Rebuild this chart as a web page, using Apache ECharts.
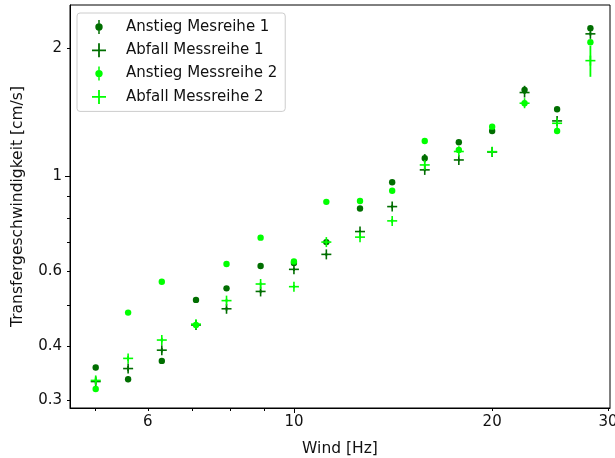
<!DOCTYPE html>
<html>
<head>
<meta charset="utf-8">
<script src="https://cdn.jsdelivr.net/npm/echarts@6/dist/echarts.min.js"></script>
<style>
  html, body { margin: 0; padding: 0; background: #fff; }
  #chart { width: 615px; height: 458px; }
</style>
</head>
<body>
<div id="chart"></div>
<script>
// Wind frequency of each measurement point [Hz]
const windHz = [5.0, 5.6, 6.3, 7.1, 7.9, 8.9, 10, 11.2, 12.6, 14.1, 15.8, 17.8, 20, 22.4, 25.1, 28.2];

// Transfer velocity [cm/s] and its uncertainty, per run
const anstieg1    = [0.357, 0.335, 0.370, 0.514, 0.547, 0.617, 0.627, 0.702, 0.841, 0.969, 1.103, 1.202, 1.278, 1.595, 1.437, 2.224];
const anstieg1Err = [0.005, 0.005, 0.005, 0.005, 0.005, 0.005, 0.005, 0.005, 0.005, 0.008, 0.025, 0.008, 0.008, 0.035, 0.010, 0.010];
const abfall1     = [0.331, 0.355, 0.392, 0.449, 0.490, 0.538, 0.606, 0.657, 0.743, 0.850, 1.036, 1.093, 1.141, 1.572, 1.349, 2.157];
const abfall1Err  = [0.005, 0.005, 0.005, 0.005, 0.005, 0.005, 0.005, 0.005, 0.005, 0.008, 0.008, 0.008, 0.008, 0.010, 0.010, 0.020];
const anstieg2    = [0.318, 0.480, 0.567, 0.449, 0.624, 0.719, 0.632, 0.872, 0.876, 0.926, 1.211, 1.154, 1.308, 1.484, 1.278, 2.062];
const anstieg2Err = [0.005, 0.005, 0.005, 0.005, 0.005, 0.005, 0.005, 0.005, 0.005, 0.008, 0.008, 0.020, 0.008, 0.025, 0.010, 0.010];
const abfall2     = [0.333, 0.375, 0.414, 0.451, 0.512, 0.560, 0.552, 0.702, 0.721, 0.787, 1.064, 1.144, 1.143, 1.484, 1.332, 1.867];
const abfall2Err  = [0.005, 0.005, 0.005, 0.005, 0.005, 0.005, 0.005, 0.005, 0.005, 0.008, 0.008, 0.008, 0.008, 0.010, 0.010, 0.156];

// Tick positions
const xLabelTicks = [6, 10, 20, 30];
const xMajorTicks = [10];
const xMinorTicks = [5, 6, 7, 8, 9, 20, 30];
const yLabelTicks = [0.3, 0.4, 0.6, 1, 2];
const yMajorTicks = [1];
const yMinorTicks = [0.3, 0.4, 0.5, 0.6, 0.7, 0.8, 0.9, 2];

const seriesNames = ['Anstieg Mesreihe 1', 'Abfall Messreihe 1', 'Anstieg Messreihe 2', 'Abfall Messreihe 2'];

const DARK = '#006e00';
const LIME = '#00ff00';
const FONT = 'DejaVu Sans';

const ICON_DOT = 'path://M6.25,0H7.75V14H6.25Z M7,3.3A3.7,3.7 0 1 1 7,10.7A3.7,3.7 0 1 1 7,3.3Z';
const ICON_PLUS = 'path://M6.1,0H7.9V6.1H14V7.9H7.9V14H6.1V7.9H0V6.1H6.1Z';

function rows(values, errors) {
  return windHz.map((w, i) => [w, values[i], errors[i]]);
}

function makeRenderer(kind, barWidth) {
  return function (params, api) {
    const x = api.value(0), y = api.value(1), err = api.value(2);
    const c = api.coord([x, y]);
    const hi = api.coord([x, y + err]);
    const lo = api.coord([x, y - err]);
    const color = api.visual('color');
    const kids = [{
      type: 'line',
      shape: { x1: c[0], y1: hi[1], x2: c[0], y2: lo[1] },
      style: { stroke: color, lineWidth: barWidth }
    }];
    if (kind === 'dot') {
      kids.push({ type: 'circle', shape: { cx: c[0], cy: c[1], r: 3.2 }, style: { fill: color } });
    } else {
      kids.push({ type: 'line', shape: { x1: c[0] - 5, y1: c[1], x2: c[0] + 5, y2: c[1] }, style: { stroke: color, lineWidth: 1.6 } });
      kids.push({ type: 'line', shape: { x1: c[0], y1: c[1] - 5, x2: c[0], y2: c[1] + 5 }, style: { stroke: color, lineWidth: 1.6 } });
    }
    return { type: 'group', children: kids };
  };
}

function errSeries(name, data, color, kind) {
  return {
    name: name,
    type: 'custom',
    xAxisIndex: 0,
    yAxisIndex: 0,
    data: data,
    encode: { x: 0, y: 1 },
    itemStyle: { color: color },
    renderItem: makeRenderer(kind, 1.8),
    clip: false
  };
}

const fmt = v => String(Math.round(v * 1000) / 1000);
const X_MIN = 4.57, X_MAX = 30.2, Y_MIN = 0.287, Y_MAX = 2.52;
const tickText = { color: '#111', fontSize: 15, fontFamily: FONT };
const nameText = { color: '#111', fontSize: 15.5, fontFamily: FONT };

const chart = echarts.init(document.getElementById('chart'), null, { renderer: 'canvas' });
chart.setOption({
  animation: false,
  backgroundColor: '#fff',
  grid: {
    left: 70, right: 5, top: 5, bottom: 50,
    show: true, borderColor: '#000', borderWidth: 1,
    containLabel: false, outerBoundsMode: 'none'
  },
  legend: {
    left: 77, top: 13,
    orient: 'vertical',
    padding: [6.5, 8, 7, 15],
    itemGap: 8.3,
    itemWidth: 14,
    itemHeight: 14,
    borderColor: '#cccccc', borderWidth: 1, borderRadius: 3,
    backgroundColor: 'rgba(255,255,255,0.8)',
    textStyle: { color: '#111', fontSize: 15, fontFamily: FONT, padding: [0, 0, 0, 15] },
    data: [
      { name: seriesNames[0], icon: ICON_DOT },
      { name: seriesNames[1], icon: ICON_PLUS },
      { name: seriesNames[2], icon: ICON_DOT },
      { name: seriesNames[3], icon: ICON_PLUS }
    ]
  },
  xAxis: [
    {
      type: 'log', logBase: 10, min: X_MIN, max: X_MAX, position: 'bottom',
      axisLine: { show: true, lineStyle: { color: '#000', width: 1 } },
      axisTick: { show: true, length: 5, customValues: xMajorTicks, lineStyle: { color: '#000' } },
      axisLabel: { customValues: xLabelTicks, formatter: fmt, margin: 7, ...tickText },
      splitLine: { show: false },
      minorTick: { show: false },
      name: 'Wind [Hz]', nameLocation: 'middle', nameGap: 33,
      nameTextStyle: { ...nameText }
    },
    {
      type: 'log', logBase: 10, min: X_MIN, max: X_MAX, position: 'bottom',
      axisLine: { show: false },
      axisTick: { show: true, length: 3, customValues: xMinorTicks, lineStyle: { color: '#000' } },
      axisLabel: { show: false },
      splitLine: { show: false }
    }
  ],
  yAxis: [
    {
      type: 'log', logBase: 10, min: Y_MIN, max: Y_MAX, position: 'left',
      axisLine: { show: true, lineStyle: { color: '#000', width: 1 } },
      axisTick: { show: true, length: 5, customValues: yMajorTicks, lineStyle: { color: '#000' } },
      axisLabel: { customValues: yLabelTicks, formatter: fmt, margin: 8, ...tickText },
      splitLine: { show: false },
      minorTick: { show: false },
      name: 'Transfergeschwindigkeit [cm/s]', nameLocation: 'middle', nameGap: 44,
      nameTextStyle: { ...nameText }
    },
    {
      type: 'log', logBase: 10, min: Y_MIN, max: Y_MAX, position: 'left',
      axisLine: { show: false },
      axisTick: { show: true, length: 3, customValues: yMinorTicks, lineStyle: { color: '#000' } },
      axisLabel: { show: false },
      splitLine: { show: false }
    }
  ],
  series: [
    errSeries(seriesNames[0], rows(anstieg1, anstieg1Err), DARK, 'dot'),
    errSeries(seriesNames[1], rows(abfall1, abfall1Err), DARK, 'plus'),
    errSeries(seriesNames[2], rows(anstieg2, anstieg2Err), LIME, 'dot'),
    errSeries(seriesNames[3], rows(abfall2, abfall2Err), LIME, 'plus')
  ]
});
</script>
</body>
</html>
